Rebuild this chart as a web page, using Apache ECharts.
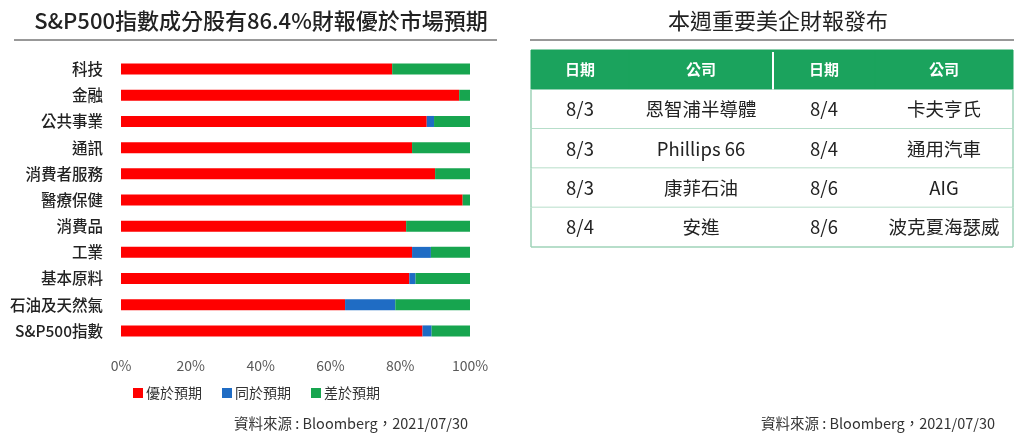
<!DOCTYPE html>
<html>
<head>
<meta charset="utf-8">
<script src="https://cdn.jsdelivr.net/npm/echarts@6/dist/echarts.min.js"></script>
<style>
html,body{margin:0;padding:0;background:#fff;}
#main{width:1024px;height:437px;}
</style>
</head>
<body>
<div id="main"></div>
<script>
// ---- Data ----
const categories = ['科技','金融','公共事業','通訊','消費者服務','醫療保健','消費品','工業','基本原料','石油及天然氣','S&P500指數'];
const better = [77.7, 96.9, 87.6, 83.4, 90.0, 97.9, 81.7, 83.4, 82.6, 64.2, 86.4];
const same   = [0, 0, 2.1, 0, 0, 0, 0, 5.4, 1.8, 14.4, 2.6];
const worse  = [22.3, 3.1, 10.3, 16.6, 10.0, 2.1, 18.3, 11.2, 15.6, 21.4, 11.0];
const seriesNames = ['優於預期','同於預期','差於預期'];
const xTicks = [0, 20, 40, 60, 80, 100];

const tableHeader = ['日期','公司','日期','公司'];
const leftDates = ['8/3','8/3','8/3','8/4'];
const leftCompanies = ['恩智浦半導體','Phillips 66','康菲石油','安進'];
const rightDates = ['8/4','8/4','8/6','8/6'];
const rightCompanies = ['卡夫亨氏','通用汽車','AIG','波克夏海瑟威'];

const leftTitle = 'S&P500指數成分股有86.4%財報優於市場預期';
const rightTitle = '本週重要美企財報發布';
const sourceText = '資料來源 : Bloomberg，2021/07/30';

// ---- Layout / style ----
const FONT = "'Noto Sans CJK TC', 'Noto Sans', sans-serif";
const colors = ['#ff0000', '#1f6cc4', '#17a54f'];
const tableGreen = '#1ba35d';
const tableBorder = '#9fd3b8';
const colEdges = [0, 98, 242, 344, 482];

// table cells built from arrays
const tableRows = [tableHeader];
for (let i = 0; i < leftDates.length; i++) {
  tableRows.push([leftDates[i], leftCompanies[i], rightDates[i], rightCompanies[i]]);
}
const cellData = [];
tableRows.forEach((r, ri) => r.forEach((t, ci) => cellData.push([ci, ri, t])));

const chart = echarts.init(document.getElementById('main'));

const barSeries = [better, same, worse].map((arr, i) => ({
  name: seriesNames[i],
  type: 'bar',
  stack: 'total',
  xAxisIndex: 0,
  yAxisIndex: 0,
  barWidth: 11,
  itemStyle: { color: colors[i] },
  data: arr
}));

chart.setOption({
  animation: false,
  textStyle: { fontFamily: FONT },
  title: [
    { text: leftTitle, left: 256, top: 5, textAlign: 'center',
      textStyle: { fontSize: 22, fontWeight: 500, color: '#222', fontFamily: FONT } },
    { text: rightTitle, left: 773, top: 5, textAlign: 'center',
      textStyle: { fontSize: 22, fontWeight: 400, color: '#222', fontFamily: FONT } },
    { text: sourceText, right: 551, top: 411,
      textStyle: { fontSize: 14.5, fontWeight: 400, color: '#333', fontFamily: FONT } },
    { text: sourceText, right: 24, top: 411,
      textStyle: { fontSize: 14.5, fontWeight: 400, color: '#333', fontFamily: FONT } }
  ],
  graphic: [
    { type: 'line', shape: { x1: 14, y1: 40, x2: 497, y2: 40 }, style: { stroke: '#333', lineWidth: 1 } },
    { type: 'line', shape: { x1: 530, y1: 40, x2: 1014, y2: 40 }, style: { stroke: '#333', lineWidth: 1 } }
  ],
  legend: {
    data: seriesNames,
    left: 128, top: 381,
    itemWidth: 10, itemHeight: 10, itemGap: 20,
    icon: 'rect',
    textStyle: { fontSize: 14, color: '#333', fontFamily: FONT, padding: [0, 0, 0, -2] }
  },
  grid: [
    { left: 121, top: 56, width: 349, height: 288 },
    { left: 531, top: 50, width: 482, height: 197 }
  ],
  xAxis: [
    { type: 'value', gridIndex: 0, min: 0, max: 100, interval: 20,
      axisLine: { show: false }, axisTick: { show: false }, splitLine: { show: false },
      axisLabel: { formatter: v => xTicks.includes(v) ? v + '%' : '', fontSize: 14, color: '#595959', margin: 15 } },
    { type: 'value', gridIndex: 1, min: 0, max: 482, show: false }
  ],
  yAxis: [
    { type: 'category', gridIndex: 0, data: categories, inverse: true,
      axisLine: { show: false }, axisTick: { show: false },
      axisLabel: { fontSize: 15.5, fontWeight: 500, color: '#222', margin: 18 } },
    { type: 'category', gridIndex: 1, data: tableRows.map((r, i) => 'r' + i), inverse: true, show: false }
  ],
  series: barSeries.concat([{
    type: 'custom',
    xAxisIndex: 1,
    yAxisIndex: 1,
    encode: { x: 0, y: 1 },
    data: cellData,
    silent: true,
    renderItem: function (params, api) {
      const col = api.value(0);
      const row = api.value(1);
      const text = cellData[params.dataIndex][2];
      const center = api.coord([colEdges[col], row]);
      const bandH = api.size([0, 1])[1];
      const x0 = center[0];
      const x1 = api.coord([colEdges[col + 1], row])[0];
      const y0 = center[1] - bandH / 2;
      const isHeader = row === 0;
      const children = [];
      children.push({
        type: 'rect',
        shape: { x: x0, y: y0, width: x1 - x0, height: bandH },
        style: { fill: isHeader ? tableGreen : '#fff', stroke: isHeader ? tableGreen : null }
      });
      if (!isHeader) {
        children.push({ type: 'line', shape: { x1: x0, y1: y0 + bandH, x2: x1, y2: y0 + bandH },
          style: { stroke: tableBorder, lineWidth: 1.5 } });
        if (col === 0) children.push({ type: 'line', shape: { x1: x0, y1: y0, x2: x0, y2: y0 + bandH },
          style: { stroke: tableBorder, lineWidth: 1.5 } });
        if (col === 3) children.push({ type: 'line', shape: { x1: x1, y1: y0, x2: x1, y2: y0 + bandH },
          style: { stroke: tableBorder, lineWidth: 1.5 } });
      } else if (col === 2) {
        children.push({ type: 'line', shape: { x1: x0, y1: y0 + 2, x2: x0, y2: y0 + bandH },
          style: { stroke: '#fff', lineWidth: 2 } });
      }
      children.push({
        type: 'text',
        style: {
          x: (x0 + x1) / 2, y: center[1],
          text: text,
          textAlign: 'center', textVerticalAlign: 'middle',
          fill: isHeader ? '#fff' : '#222',
          font: (isHeader ? 'bold 15px ' : '18.5px ') + FONT
        }
      });
      return { type: 'group', children: children };
    }
  }])
});
</script>
</body>
</html>
